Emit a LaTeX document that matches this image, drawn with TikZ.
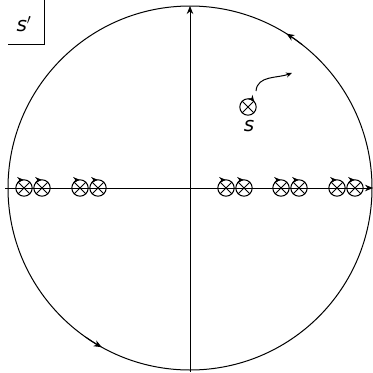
\documentclass[tikz,border=0pt]{standalone}
\usepackage{fontspec}
\setmainfont{DejaVu Sans}
\usetikzlibrary{arrows.meta,calc}
\tikzset{
  line/.style={line width=1pt, black},
  tip/.style={-{Stealth[length=8pt,width=6.5pt]}},
  smalltip/.style={-{Stealth[length=6pt,width=5pt]}},
  poletip/.style={-{Stealth[length=6.5pt,width=6pt]}},
  lbl/.style={font=\itshape\fontsize{20}{20}\selectfont, inner sep=0pt},
}
% #1 position, #2 name, #3 start angle, #4 end angle (of the small arrow)
\newcommand{\polemark}[4]{%
  \coordinate (#2) at #1;
  \draw[line] (#2) circle (8.2);
  \draw[line] ($(#2)+(-5.8,-5.8)$) -- ($(#2)+(5.8,5.8)$);
  \draw[line] ($(#2)+(-5.8,5.8)$) -- ($(#2)+(5.8,-5.8)$);
  \draw[line,poletip] ($(#2)+(#3:8.2)$) arc (#3:#4:8.2);
}
\begin{document}
\begin{tikzpicture}[x=1pt,y=-1pt]
\useasboundingbox (0,0) rectangle (373,373);
\coordinate (O) at (190,188);
\draw[line] (O) circle (182);
% axes
\coordinate (xl) at (5,188);
\coordinate (xr) at (373,188);
\coordinate (yb) at (190,372);
\coordinate (yt) at (190,6);
\draw[line,tip] (xl) -- (xr);
\draw[line,tip] (yb) -- (yt);
% arrows on the big circle (counterclockwise)
\draw[line,tip] ($(O)+(-52:182)$) arc (-52:-58:182);
\draw[line,tip] ($(O)+(125:182)$) arc (125:119:182);
% poles
\foreach \x [count=\i] in {24,42,80,98,226,244,281,299,337,355}{
  \polemark{(\x,188)}{p\i}{-140}{-92}
}
% s
\polemark{(248,107)}{s}{-85}{-40}
\node[lbl] (slab) at (249,126) {s};
\coordinate (c1) at (256,91);
\coordinate (c2) at (292,73);
\draw[line,smalltip] (c1) to[out=85,in=-160] (c2);
% s' box
\node[lbl] (sp) at (24,24) {s$'$};
\coordinate (b1) at (44,0);
\coordinate (b2) at (44,44);
\coordinate (b3) at (8,44);
\draw[line] (b1) -- (b2) -- (b3);
\end{tikzpicture}
\end{document}
